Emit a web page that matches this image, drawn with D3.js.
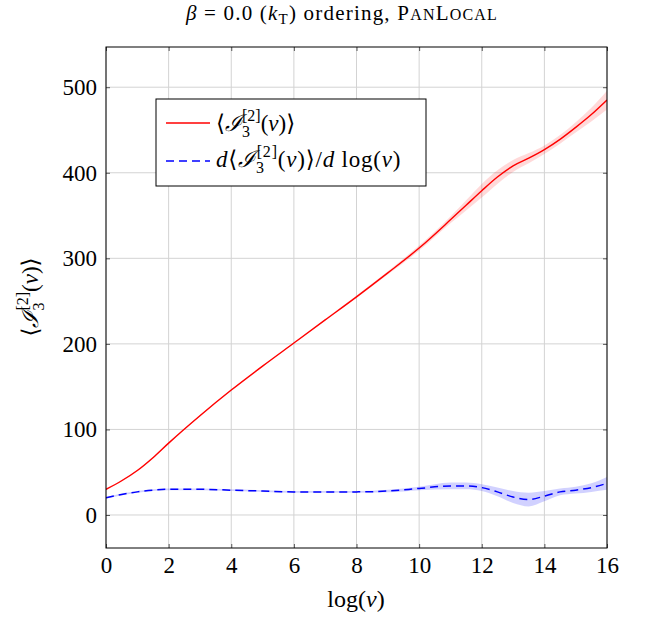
<!DOCTYPE html>
<html><head><meta charset="utf-8">
<script src="https://cdn.jsdelivr.net/npm/d3@7"></script>
<style>body{margin:0;background:#fff}text{font-family:"Liberation Serif","DejaVu Serif",serif;fill:#000}</style>
</head><body><svg id="c" width="649" height="624"></svg>
<script>
const xs      = [0,0.5,1,1.5,2,3,4,5,6,7,8,9,10,11,11.5,12,12.5,13,13.5,14,14.5,15,15.5,16];
const meanI   = [30,40,52,67,84,116,146,174,201,228,255,283,312,345,362,379,395,408,417,427,439,453,468,485];
const meanErr = [1,1,1,1,1,1,1,1,1,1,1.5,2,3,4,6,8,8,7,6,5,5,6,8,11];
const derivI  = [20,24,27,29,30,30,29,28,27,27,27,28,31,34,34,32,27,21,18,22,27,29,32,37];
const derivErr= [1,1,1,1,1,1,1,1,1,1,1,1.5,2,4,4,4,5,7,8,6,4,4,5,7.5];
const xTicks = [0,2,4,6,8,10,12,14,16];
const yTicks = [0,100,200,300,400,500];

const svg = d3.select("#c");
const L=106,R=607,T=47,B=548;
const x = d3.scaleLinear().domain([0,16]).range([L,R]);
const y = d3.scaleLinear().domain([-38.6,547]).range([B,T]);

// grid
svg.append("g").selectAll("line").data(xTicks).join("line")
  .attr("x1",d=>x(d)).attr("x2",d=>x(d)).attr("y1",T).attr("y2",B)
  .attr("stroke","#d3d3d3").attr("stroke-width",1);
svg.append("g").selectAll("line").data(yTicks).join("line")
  .attr("y1",d=>y(d)).attr("y2",d=>y(d)).attr("x1",L).attr("x2",R)
  .attr("stroke","#d3d3d3").attr("stroke-width",1);

const pts = (m,e)=>xs.map((v,i)=>({x:v,m:m[i],e:e[i]}));
const area = d3.area().x(d=>x(d.x)).y0(d=>y(d.m-d.e)).y1(d=>y(d.m+d.e)).curve(d3.curveMonotoneX);
const line = d3.line().x(d=>x(d.x)).y(d=>y(d.m)).curve(d3.curveMonotoneX);

svg.append("clipPath").attr("id","cp").append("rect").attr("x",L).attr("y",T).attr("width",R-L).attr("height",B-T);
const pg = svg.append("g").attr("clip-path","url(#cp)");
const s1=pts(meanI,meanErr), s2=pts(derivI,derivErr);
pg.append("path").attr("d",area(s1)).attr("fill","#ff0000").attr("fill-opacity",0.15);
pg.append("path").attr("d",area(s2)).attr("fill","#0000ff").attr("fill-opacity",0.18);
pg.append("path").attr("d",line(s1)).attr("fill","none").attr("stroke","#ff0000").attr("stroke-width",1.4);
pg.append("path").attr("d",line(s2)).attr("fill","none").attr("stroke","#0000ff").attr("stroke-width",1.5).attr("stroke-dasharray","8,5");

// axes with inward ticks on both sides
const tk=4, fs=23;
const axB = d3.axisBottom(x).tickValues(xTicks).tickSize(-tk).tickPadding(8);
const axT = d3.axisTop(x).tickValues(xTicks).tickSize(-tk).tickFormat("");
const axL = d3.axisLeft(y).tickValues(yTicks).tickSize(-tk).tickPadding(9);
const axR = d3.axisRight(y).tickValues(yTicks).tickSize(-tk).tickFormat("");
function style(g){g.select(".domain").remove();g.selectAll(".tick line").attr("stroke","#555");g.selectAll("text").attr("font-size",fs).attr("fill","#000");}
svg.append("g").attr("transform",`translate(0,${B})`).call(axB).call(style).selectAll("text").attr("y",null).attr("dy",null).attr("transform","translate(0,25)");
svg.append("g").attr("transform",`translate(0,${T})`).call(axT).call(style);
svg.append("g").attr("transform",`translate(${L},0)`).call(axL).call(style);
svg.append("g").attr("transform",`translate(${R},0)`).call(axR).call(style);

svg.append("rect").attr("x",L).attr("y",T).attr("width",R-L).attr("height",B-T).attr("fill","none").attr("stroke","#000").attr("stroke-width",1);

// title
const tt = svg.append("text").attr("x",342).attr("y",20).attr("text-anchor","middle").attr("font-size",21).attr("letter-spacing",1.2);
tt.append("tspan").attr("font-style","italic").text("β");
tt.append("tspan").text(" = 0.0 (");
tt.append("tspan").attr("font-style","italic").text("k");
tt.append("tspan").attr("font-size",15).attr("dy",4).text("T");
tt.append("tspan").attr("dy",-4).text(") ordering, P");
tt.append("tspan").attr("font-size",16).text("AN");
tt.append("tspan").text("L");
tt.append("tspan").attr("font-size",16).text("OCAL");

// math label helper
function iLabel(t, pre, post){
  if(pre){ t.append("tspan").attr("font-style","italic").text(pre); }
  t.append("tspan").text("⟨");
  t.append("tspan").attr("font-style","italic").attr("font-family","DejaVu Serif, serif").text("ℐ");
  t.append("tspan").attr("font-size",16).attr("dy",6).text("3");
  t.append("tspan").attr("font-size",16).attr("dx",-8).attr("dy",-16).text("[2]");
  t.append("tspan").attr("dy",10).text("(");
  t.append("tspan").attr("font-style","italic").text("ν");
  t.append("tspan").text(")⟩");
  if(post){ post(t); }
}
// x label
const xl = svg.append("text").attr("x",356).attr("y",607).attr("text-anchor","middle").attr("font-size",24);
xl.append("tspan").text("log(");
xl.append("tspan").attr("font-style","italic").text("ν");
xl.append("tspan").text(")");
// y label
const yl = svg.append("text").attr("transform","translate(38,297) rotate(-90)").attr("text-anchor","middle").attr("font-size",23);
iLabel(yl);

// legend
svg.append("rect").attr("x",156).attr("y",99).attr("width",270).attr("height",87).attr("fill","#fff").attr("stroke","#000").attr("stroke-width",1);
svg.append("line").attr("x1",166).attr("x2",210).attr("y1",123).attr("y2",123).attr("stroke","#ff0000").attr("stroke-width",1.4);
svg.append("line").attr("x1",166).attr("x2",210).attr("y1",161).attr("y2",161).attr("stroke","#0000ff").attr("stroke-width",1.5).attr("stroke-dasharray","8,5");
const l1 = svg.append("text").attr("x",216).attr("y",131).attr("font-size",23);
iLabel(l1);
const l2 = svg.append("text").attr("x",216).attr("y",167).attr("font-size",23).attr("letter-spacing",0.8);
iLabel(l2,"d",t=>{t.append("tspan").text("/");t.append("tspan").attr("font-style","italic").text("d");t.append("tspan").text(" log(");t.append("tspan").attr("font-style","italic").text("ν");t.append("tspan").text(")");});
</script></body></html>
